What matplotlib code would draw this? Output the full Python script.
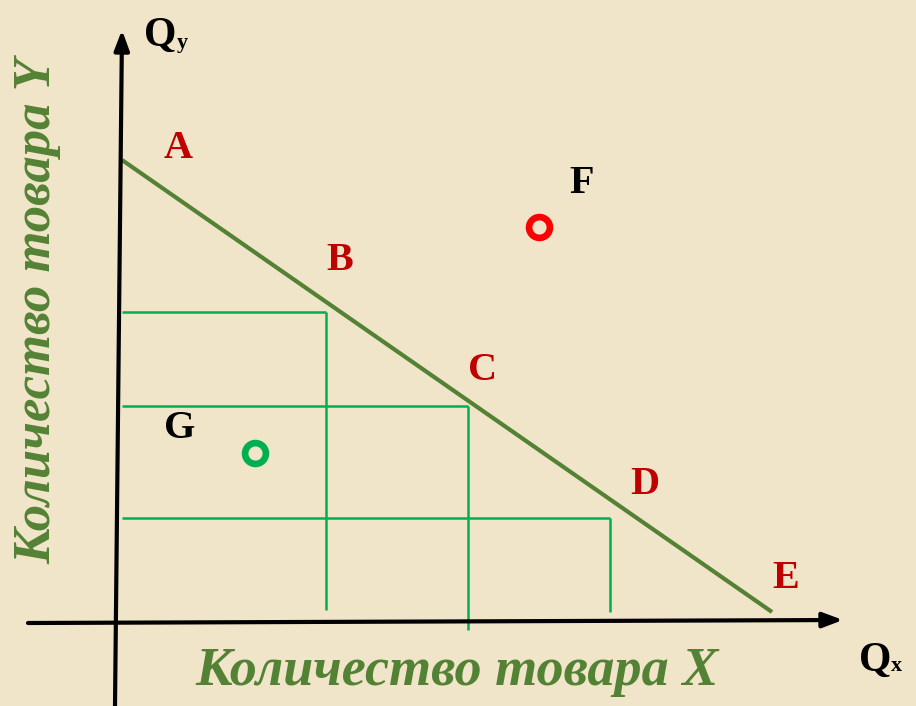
import matplotlib
matplotlib.use("Agg")
import matplotlib.pyplot as plt

# ---- data (units: 1 unit = 10 px, origin at axis crossing) ----
budget_x = [0.5, 65.5]            # budget line A -> E
budget_y = [46.2, 1.0]
rect_x = [20.9, 35.1, 49.3]       # corners of bundles B, C, D
rect_y = [31.0, 21.6, 10.4]
rect_bottom = [1.2, -0.8, 1.0]
rect_left = 0.5
point_labels = ["A", "B", "C", "D", "E"]
point_label_x = [6.1, 22.3, 36.6, 52.8, 66.9]
point_label_y = [47.4, 36.2, 25.1, 13.7, 4.4]
F_point = (42.2, 39.5)
G_point = (13.8, 16.9)
F_label = (46.5, 43.9)
G_label = (6.3, 19.4)
xlabel_text = "Количество товара X"
ylabel_text = "Количество товара Y"

BG = "#f1e5c9"
OLIVE = "#548235"
BRIGHT = "#00b050"
RED = "#c00000"

fig = plt.figure(figsize=(9.16, 7.06), dpi=100)
fig.patch.set_facecolor(BG)
ax = fig.add_axes([0, 0, 1, 1])
ax.set_facecolor(BG)
ax.set_xlim(-11.7, 79.9)
ax.set_ylim(-8.4, 62.2)
ax.axis("off")

serif = ["Liberation Serif", "DejaVu Serif"]

# axes with arrows
ax.annotate("", xy=(0.5, 59.2), xytext=(-0.2, -8.4),
            arrowprops=dict(arrowstyle="-|>,head_length=1.2,head_width=0.45",
                            color="black", lw=3, shrinkA=0, shrinkB=0))
ax.annotate("", xy=(72.6, 0.2), xytext=(-8.9, -0.1),
            arrowprops=dict(arrowstyle="-|>,head_length=1.2,head_width=0.45",
                            color="black", lw=3, shrinkA=0, shrinkB=0))

# guide rectangles
for cx, cy, cb in zip(rect_x, rect_y, rect_bottom):
    ax.plot([rect_left, cx], [cy, cy], color=BRIGHT, lw=1.8, solid_capstyle="butt")
    ax.plot([cx, cx], [cy, cb], color=BRIGHT, lw=1.8, solid_capstyle="butt")

# budget line
ax.plot(budget_x, budget_y, color=OLIVE, lw=3, solid_capstyle="butt")

# bundle points (rings)
ax.plot(*F_point, "o", ms=15, mfc=BG, mec="#ff0000", mew=4.8)
ax.plot(*G_point, "o", ms=15, mfc=BG, mec=BRIGHT, mew=4.8)

# labels
for t, x, y in zip(point_labels, point_label_x, point_label_y):
    ax.text(x, y, t, color=RED, fontsize=29, fontweight="bold", family=serif,
            ha="center", va="center")
ax.text(*F_label, "F", color="black", fontsize=29, fontweight="bold", family=serif,
        ha="center", va="center")
ax.text(*G_label, "G", color="black", fontsize=29, fontweight="bold", family=serif,
        ha="center", va="center")

# axis names
ax.text(4.3, 58.6, "Q", fontsize=30, fontweight="bold", family=serif,
        ha="center", va="center")
ax.text(6.5, 57.9, "y", fontsize=16, fontweight="bold", family=serif,
        ha="center", va="center")
ax.text(75.8, -3.9, "Q", fontsize=30, fontweight="bold", family=serif,
        ha="center", va="center")
ax.text(77.9, -4.4, "x", fontsize=16, fontweight="bold", family=serif,
        ha="center", va="center")

ax.text(34.0, -5.0, xlabel_text, color=OLIVE, fontsize=39, fontweight="bold",
        style="italic", family=serif, ha="center", va="center")
ax.text(-8.0, 31.1, ylabel_text, color=OLIVE, fontsize=38, fontweight="bold",
        style="italic", family=serif, ha="center", va="center", rotation=90)

fig.savefig("out.png", dpi=100, facecolor=BG)
